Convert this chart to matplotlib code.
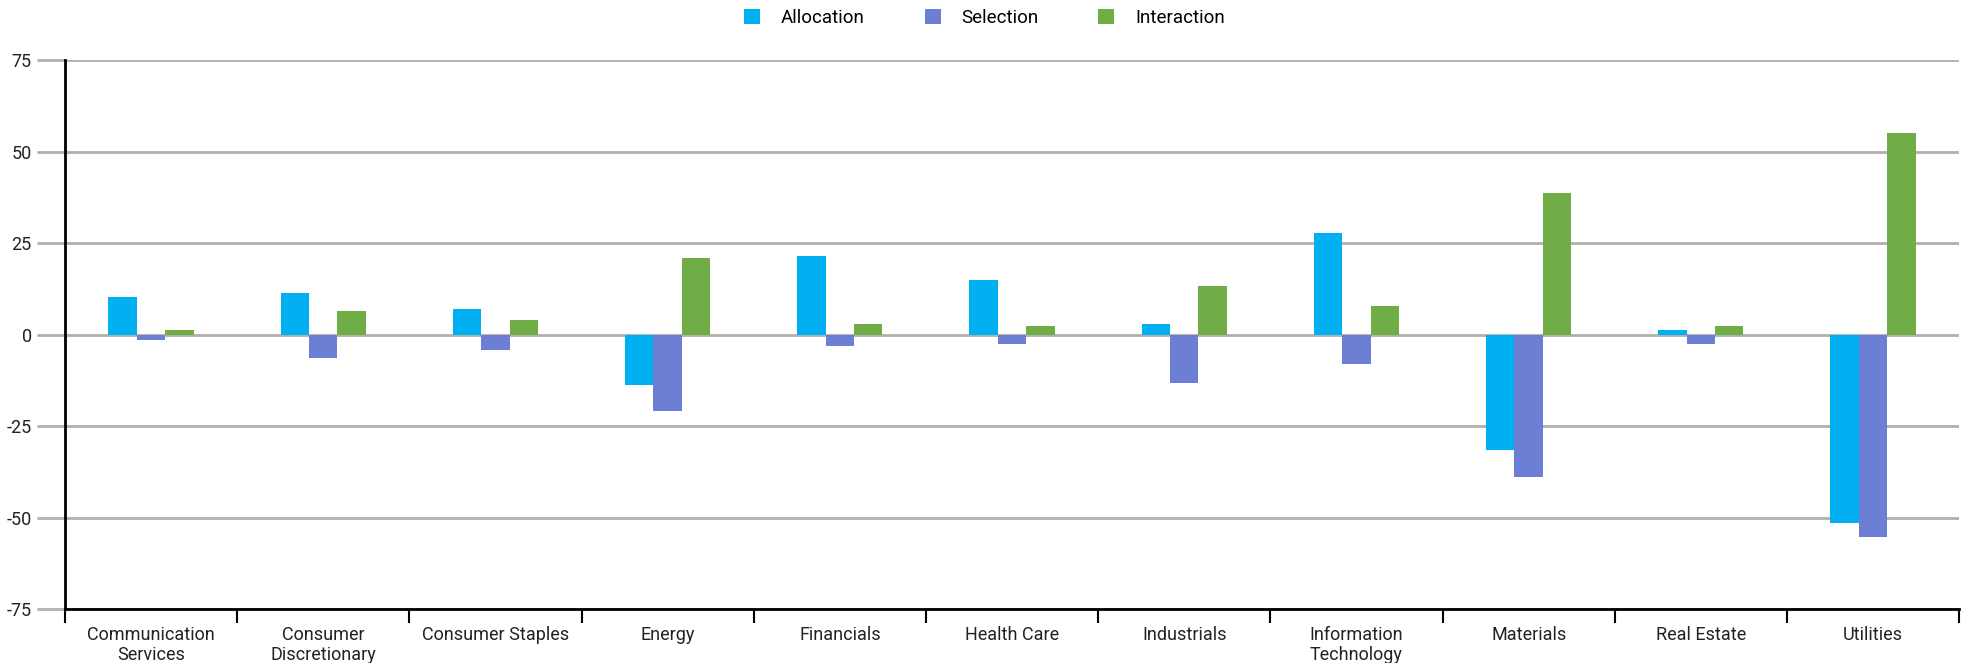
import numpy as np
import matplotlib
matplotlib.use("Agg")
import matplotlib.pyplot as plt

plt.rcParams['font.family'] = ['Roboto', 'DejaVu Sans']

sectors = ["Communication\nServices", "Consumer\nDiscretionary", "Consumer Staples",
           "Energy", "Financials", "Health Care", "Industrials",
           "Information\nTechnology", "Materials", "Real Estate", "Utilities"]
allocation = [10.2, 11.3, 6.9, -13.9, 21.4, 14.9, 2.9, 27.7, -31.6, 1.2, -51.4]
selection = [-1.5, -6.4, -4.3, -21.0, -3.0, -2.5, -13.3, -8.0, -38.8, -2.5, -55.3]
interaction = [1.3, 6.3, 4.1, 20.8, 2.9, 2.4, 13.2, 7.9, 38.6, 2.4, 55.1]
yticks = [-75, -50, -25, 0, 25, 50, 75]

series = [("Allocation", allocation, "#00B0F0"),
          ("Selection", selection, "#6D7ED5"),
          ("Interaction", interaction, "#70AD47")]

fig = plt.figure(figsize=(19.69, 6.63), dpi=100)
ax = fig.add_axes([0.033, 0.0814, 0.962, 0.828])

x = np.arange(len(sectors))
w = 0.165
for i, (name, vals, col) in enumerate(series):
    ax.bar(x + (i - 1) * w, vals, width=w, color=col, label=name, zorder=3)

ax.set_xlim(-0.5, len(sectors) - 0.5)
ax.set_ylim(-75, 75)
ax.set_yticks(yticks)
ax.set_yticklabels([str(t) for t in yticks], fontsize=13, color="#222222")
ax.grid(axis="y", color="#b3afab", linewidth=2, zorder=0)
ax.tick_params(axis="y", length=20, width=2, color="#b3afab", pad=4)

ax.set_xticks(x)
ax.set_xticklabels(sectors, fontsize=13, color="#222222")
ax.tick_params(axis="x", which="major", length=0, pad=12)
ax.set_xticks(np.arange(len(sectors) + 1) - 0.5, minor=True)
ax.tick_params(axis="x", which="minor", length=10, width=1.5, color="black")

for s in ["top", "right"]:
    ax.spines[s].set_visible(False)
ax.spines["left"].set_linewidth(2)
ax.spines["bottom"].set_linewidth(2)
ax.spines["left"].set_color("black")
ax.spines["bottom"].set_color("black")

fig.legend(loc="upper center", bbox_to_anchor=(0.5, 1.012), ncol=3, frameon=False,
           fontsize=13.5, handlelength=0.85, handleheight=0.85, columnspacing=3.2,
           handletextpad=1.1)

fig.savefig("out.png", dpi=100)
